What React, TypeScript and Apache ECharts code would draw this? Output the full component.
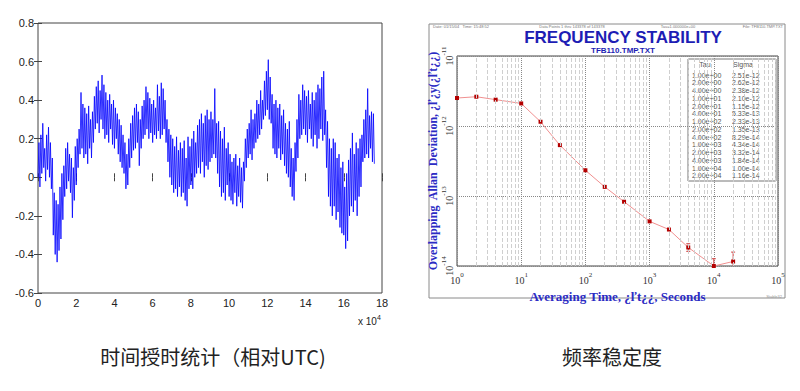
import React, { useEffect, useRef } from "react";
import * as echarts from "echarts";

// ---------- Left chart: time offset relative to UTC ----------
const SAMPLE_STEP = 0.05; // x unit is 10^4 s
const OFFSET_UTC = [
  0.0, 0.18, -0.05, 0.22, 0.02, 0.28, 0.05, 0.15, -0.02, 0.22,
  0.04, 0.26, 0.0, 0.18, -0.06, 0.1, -0.3, -0.08, -0.4, -0.12,
  -0.44, -0.14, -0.38, -0.05, -0.32, 0.02, -0.22, 0.06, -0.1, 0.15,
  -0.06, 0.18, -0.02, 0.12, -0.08, 0.1, -0.21, 0.05, -0.12, 0.16,
  -0.04, 0.2, 0.05, 0.25, 0.12, 0.44, 0.15, 0.38, 0.1, 0.36,
  0.12, 0.33, 0.07, 0.37, 0.15, 0.3, 0.1, 0.34, 0.18, 0.42,
  0.25, 0.47, 0.28, 0.5, 0.23, 0.45, 0.3, 0.53, 0.25, 0.48,
  0.2, 0.44, 0.22, 0.4, 0.18, 0.43, 0.25, 0.38, 0.17, 0.4,
  0.15, 0.36, 0.2, 0.33, 0.12, 0.3, 0.08, 0.27, 0.05, 0.22,
  0.02, 0.18, -0.06, 0.12, -0.04, 0.2, 0.05, 0.28, 0.1, 0.32,
  0.14, 0.36, 0.15, 0.38, 0.18, 0.34, 0.06, 0.3, 0.15, 0.37,
  0.2, 0.4, 0.22, 0.47, 0.25, 0.44, 0.2, 0.41, 0.23, 0.38,
  0.18, 0.4, 0.22, 0.36, 0.2, 0.48, 0.24, 0.42, 0.2, 0.49,
  0.22, 0.46, 0.25, 0.4, 0.18, 0.3, 0.08, 0.25, 0.0, 0.22,
  -0.04, 0.2, -0.08, 0.16, -0.06, 0.21, -0.1, 0.14, -0.05, 0.18,
  -0.1, 0.15, -0.08, 0.19, -0.12, 0.1, -0.15, 0.21, -0.06, 0.16,
  -0.04, 0.2, -0.06, 0.24, 0.0, 0.18, 0.02, 0.27, 0.05, 0.3,
  0.02, 0.33, 0.08, 0.28, 0.0, 0.32, 0.06, 0.35, 0.04, 0.3,
  0.08, 0.34, 0.1, 0.3, 0.12, 0.46, 0.1, 0.28, 0.02, 0.29,
  -0.05, 0.24, -0.1, 0.2, -0.08, 0.26, -0.12, 0.15, -0.04, 0.18,
  -0.1, 0.12, -0.12, 0.08, -0.14, 0.1, -0.08, 0.12, -0.15, 0.06,
  -0.1, 0.1, -0.13, 0.05, -0.16, 0.08, -0.02, 0.2, 0.05, 0.25,
  0.1, 0.28, 0.12, 0.35, 0.09, 0.3, 0.15, 0.33, 0.18, 0.4,
  0.2, 0.38, 0.22, 0.45, 0.25, 0.4, 0.3, 0.5, 0.32, 0.55,
  0.35, 0.61, 0.3, 0.52, 0.28, 0.43, 0.15, 0.38, 0.12, 0.4,
  0.1, 0.36, 0.15, 0.38, 0.09, 0.32, 0.12, 0.35, 0.06, 0.28,
  0.02, 0.25, 0.0, 0.29, -0.05, 0.15, -0.1, 0.1, -0.12, 0.18,
  0.03, 0.3, 0.1, 0.43, 0.2, 0.4, 0.22, 0.48, 0.25, 0.45,
  0.22, 0.42, 0.18, 0.45, 0.25, 0.38, 0.2, 0.44, 0.16, 0.4,
  0.22, 0.44, 0.15, 0.48, 0.2, 0.46, 0.25, 0.52, 0.19, 0.55,
  0.22, 0.35, 0.05, 0.29, -0.1, 0.2, -0.15, 0.15, -0.2, 0.2,
  -0.15, 0.18, -0.22, 0.1, -0.18, 0.12, -0.26, 0.05, -0.29, 0.08,
  -0.3, -0.05, -0.37, 0.02, -0.33, 0.09, -0.2, 0.15, -0.15, 0.23,
  -0.18, 0.12, -0.12, 0.18, -0.2, 0.15, -0.1, 0.2, -0.05, 0.22,
  0.08, 0.3, 0.1, 0.35, 0.12, 0.46, 0.1, 0.32, 0.15, 0.34,
  0.08, 0.33, 0.07,
];
const LEFT_X_MIN = 0;
const LEFT_X_MAX = 18;
const LEFT_X_INTERVAL = 2;
const LEFT_Y_MIN = -0.6;
const LEFT_Y_MAX = 0.8;
const LEFT_Y_INTERVAL = 0.2;

// ---------- Right chart: frequency stability ----------
const TAU = [1, 2, 4, 10, 20, 40, 100, 200, 400, 1000, 2000, 4000, 10000, 20000];
const SIGMA = [
  2.51e-12, 2.62e-12, 2.38e-12, 2.1e-12, 1.15e-12, 5.33e-13, 2.33e-13,
  1.35e-13, 8.29e-14, 4.34e-14, 3.32e-14, 1.84e-14, 1.0e-14, 1.16e-14,
];
const ERR_TAU = [4000, 10000, 20000];
const ERR_LO = [1.62e-14, 0.85e-14, 0.85e-14];
const ERR_HI = [2.08e-14, 1.27e-14, 1.58e-14];
const MINOR_STEPS = [2, 3, 4, 5, 6, 7, 8, 9];
const X_DECADES = [0, 1, 2, 3, 4];
const Y_DECADES = [-14, -13, -12];

const TITLE = "FREQUENCY STABILITY";
const SUBTITLE = "TFB110.TMP.TXT";
const HEADER_DATE = "Date: 01/15/04   Time: 15:48:52";
const HEADER_POINTS = "Data Points 1 thru 143378 of 143378";
const HEADER_TAU = "Tau=1.000000e+00";
const HEADER_FILE = "File: TFB110.TMP.TXT";
const X_NAME = "Averaging Time, \u00bf\u013et\u00bf\u00bf, Seconds";
const Y_NAME = "Overlapping  Allan  Deviation, \u00bf\u013e\u00bfy(\u00bf\u013et\u00bf\u00bf)";
const CAPTION_LEFT = "时间授时统计（相对UTC)";
const CAPTION_RIGHT = "频率稳定度";

function fmtE(v: number): string {
  const e = Math.floor(Math.log10(v) + 1e-9);
  const m = v / Math.pow(10, e);
  const sign = e < 0 ? "-" : "+";
  const a = Math.abs(e);
  return m.toFixed(2) + "e" + sign + (a < 10 ? "0" + a : String(a));
}

const BLUE_T = "#1d1db4";
const SERIF = "'Liberation Serif', 'DejaVu Serif', serif";
const SANS = "'Liberation Sans', Arial, sans-serif";

export default function App() {
  const ref = useRef<HTMLDivElement>(null);
  useEffect(() => {
    if (!ref.current) return;
    const chart = echarts.init(ref.current, null, { renderer: "svg" });

    const minorX = X_DECADES.flatMap((d) => MINOR_STEPS.map((m) => m * Math.pow(10, d)));
    const minorY = Y_DECADES.flatMap((d) => MINOR_STEPS.map((m) => m * Math.pow(10, d)));

    const powLabel = (v: number) => `{b|10}{s|${Math.round(Math.log10(v))}}`;
    const powRich = {
      b: { fontSize: 10, fontFamily: SERIF, color: "#333", lineHeight: 14, verticalAlign: "bottom" },
      s: { fontSize: 7, fontFamily: SERIF, color: "#333", lineHeight: 14, verticalAlign: "top" },
    };

    const tableRowH = 7.75;
    const tableChildren: any[] = [
      { type: "rect", shape: { x: 0, y: 0, width: 88, height: 122 }, style: { fill: "#fff", stroke: "#777", lineWidth: 1 } },
      { type: "text", x: 17, y: 5.5, style: { text: "Tau", fontSize: 7, fill: "#555", fontFamily: SANS, textAlign: "center", textVerticalAlign: "middle" } },
      { type: "text", x: 55, y: 5.5, style: { text: "Sigma", fontSize: 7, fill: "#555", fontFamily: SANS, textAlign: "center", textVerticalAlign: "middle" } },
    ];
    TAU.forEach((t, i) => {
      tableChildren.push({
        type: "text", x: 4, y: 16 + i * tableRowH,
        style: { text: fmtE(t), fontSize: 7, fill: "#555", fontFamily: SANS, textVerticalAlign: "middle" },
      });
      tableChildren.push({
        type: "text", x: 44, y: 16 + i * tableRowH,
        style: { text: fmtE(SIGMA[i]), fontSize: 7, fill: "#555", fontFamily: SANS, textVerticalAlign: "middle" },
      });
    });

    const hdr = (text: string, x: number, align: string) => ({
      type: "text", x, y: 26,
      style: { text, fontSize: 4, fill: "#777", fontFamily: SANS, textAlign: align, textVerticalAlign: "middle" },
    });

    const option: any = {
      animation: false,
      backgroundColor: "#ffffff",
      grid: [
        { left: 38, top: 23, width: 344, height: 270, show: true, borderColor: "#444", borderWidth: 1, backgroundColor: "transparent" },
        { left: 457, top: 56, width: 321, height: 210, show: true, borderColor: "#444", borderWidth: 1, backgroundColor: "#fff" },
      ],
      xAxis: [
        {
          type: "value", gridIndex: 0, min: LEFT_X_MIN, max: LEFT_X_MAX, interval: LEFT_X_INTERVAL, position: "bottom",
          axisLine: { show: false },
          axisTick: { show: true, inside: true, length: 4, lineStyle: { color: "#444" } },
          axisLabel: { fontSize: 11, color: "#222", fontFamily: SANS, margin: 4 },
          splitLine: { show: false },
        },
        {
          type: "value", gridIndex: 0, min: LEFT_X_MIN, max: LEFT_X_MAX, interval: LEFT_X_INTERVAL, position: "top",
          axisLine: { show: false },
          axisTick: { show: true, inside: true, length: 4, lineStyle: { color: "#444" } },
          axisLabel: { show: false },
          splitLine: { show: false },
        },
        {
          type: "log", logBase: 10, gridIndex: 1, min: 1, max: 1e5, position: "bottom",
          axisLine: { show: false },
          axisTick: { show: false },
          axisLabel: { formatter: powLabel, rich: powRich, margin: 5 },
          splitLine: { show: true, lineStyle: { color: "#888", type: "dotted", width: 1 } },
          name: X_NAME, nameLocation: "middle", nameGap: 21,
          nameTextStyle: { fontSize: 13, fontWeight: "bold", color: "#2b2bc4", fontFamily: SERIF },
        },
      ],
      yAxis: [
        {
          type: "value", gridIndex: 0, min: LEFT_Y_MIN, max: LEFT_Y_MAX, interval: LEFT_Y_INTERVAL, position: "left",
          axisLine: { show: false },
          axisTick: { show: true, inside: true, length: 4, lineStyle: { color: "#444" } },
          axisLabel: {
            fontSize: 11, color: "#222", fontFamily: SANS, margin: 4,
            formatter: (v: number) => String(Number(v.toFixed(1))),
          },
          splitLine: { show: false },
        },
        {
          type: "value", gridIndex: 0, min: LEFT_Y_MIN, max: LEFT_Y_MAX, interval: LEFT_Y_INTERVAL, position: "right",
          axisLine: { show: false },
          axisTick: { show: true, inside: true, length: 4, lineStyle: { color: "#444" } },
          axisLabel: { show: false },
          splitLine: { show: false },
        },
        {
          type: "log", logBase: 10, gridIndex: 1, min: 1e-14, max: 1e-11, position: "left",
          axisLine: { show: false },
          axisTick: { show: false },
          axisLabel: { formatter: powLabel, rich: powRich, rotate: 90, margin: 3 },
          splitLine: { show: true, lineStyle: { color: "#888", type: "dotted", width: 1 } },
          name: Y_NAME, nameLocation: "middle", nameGap: 17, nameRotate: 90,
          nameTextStyle: { fontSize: 12, fontWeight: "bold", color: "#2b2bc4", fontFamily: SERIF },
        },
      ],
      series: [
        {
          type: "line", xAxisIndex: 0, yAxisIndex: 0,
          data: OFFSET_UTC.map((v, i) => [i * SAMPLE_STEP, v]),
          showSymbol: false, symbol: "none",
          lineStyle: { color: "rgba(0,0,255,0.8)", width: 1 },
          z: 3,
        },
        {
          type: "line", xAxisIndex: 2, yAxisIndex: 2, data: [], z: 1,
          markLine: {
            silent: true, symbol: ["none", "none"], label: { show: false },
            lineStyle: { color: "#cfcfcf", type: "dashed", width: 1 },
            data: [...minorX.map((v) => ({ xAxis: v })), ...minorY.map((v) => ({ yAxis: v }))],
          },
        },
        {
          type: "line", xAxisIndex: 2, yAxisIndex: 2,
          data: TAU.map((t, i) => [t, SIGMA[i]]),
          symbol: "rect", symbolSize: 4, showSymbol: true,
          itemStyle: { color: "#b40000" },
          lineStyle: { color: "#f09090", width: 1 },
          z: 4,
        },
        {
          type: "custom", xAxisIndex: 2, yAxisIndex: 2, z: 4, clip: true,
          data: ERR_TAU.map((t, i) => [t, ERR_LO[i], ERR_HI[i]]),
          encode: { x: 0, y: [1, 2] },
          renderItem: (params: any, api: any) => {
            const x = api.value(0);
            const top = api.coord([x, api.value(2)]);
            const bot = api.coord([x, api.value(1)]);
            const st = { stroke: "#d04040", lineWidth: 1 };
            return {
              type: "group",
              children: [
                { type: "line", shape: { x1: top[0], y1: top[1], x2: bot[0], y2: bot[1] }, style: st },
                { type: "line", shape: { x1: top[0] - 2, y1: top[1], x2: top[0] + 2, y2: top[1] }, style: st },
                { type: "line", shape: { x1: bot[0] - 2, y1: bot[1], x2: bot[0] + 2, y2: bot[1] }, style: st },
              ],
            };
          },
        },
      ],
      graphic: [
        { type: "rect", z: 0, shape: { x: 429, y: 24, width: 356, height: 274 }, style: { fill: "none", stroke: "#8a8a8a", lineWidth: 1 } },
        hdr(HEADER_DATE, 433, "left"),
        hdr(HEADER_POINTS, 572, "center"),
        hdr(HEADER_TAU, 678, "center"),
        hdr(HEADER_FILE, 783, "right"),
        { type: "text", x: 623, y: 37, style: { text: TITLE, fontSize: 17, fontWeight: "bold", fill: BLUE_T, fontFamily: SANS, textAlign: "center", textVerticalAlign: "middle" } },
        { type: "text", x: 623, y: 50.5, style: { text: SUBTITLE, fontSize: 8, fontWeight: "bold", fill: BLUE_T, fontFamily: SANS, textAlign: "center", textVerticalAlign: "middle" } },
        { type: "group", x: 688, y: 59, z: 100, children: tableChildren },
        { type: "text", x: 782, y: 296, style: { text: "Stable32", fontSize: 4, fill: "#999", fontFamily: SANS, textAlign: "right", textVerticalAlign: "middle" } },
        {
          type: "text", x: 358, y: 320,
          style: {
            text: "{a|x 10}{s|4}", fontFamily: SANS, fill: "#222",
            rich: { a: { fontSize: 10, fontFamily: SANS, color: "#222", lineHeight: 13, verticalAlign: "bottom" }, s: { fontSize: 7, fontFamily: SANS, color: "#222", lineHeight: 13, verticalAlign: "top" } },
            textVerticalAlign: "middle",
          },
        },
        { type: "text", x: 213, y: 356, style: { text: CAPTION_LEFT, fontSize: 20, fill: "#222", fontFamily: "'Noto Sans CJK SC', sans-serif", textAlign: "center", textVerticalAlign: "middle" } },
        { type: "text", x: 612, y: 356, style: { text: CAPTION_RIGHT, fontSize: 20, fill: "#222", fontFamily: "'Noto Sans CJK SC', sans-serif", textAlign: "center", textVerticalAlign: "middle" } },
      ],
    };
    chart.setOption(option);
    return () => chart.dispose();
  }, []);

  return <div ref={ref} style={{ position: "fixed", left: 0, top: 0, width: 800, height: 391, background: "#fff" }} />;
}
